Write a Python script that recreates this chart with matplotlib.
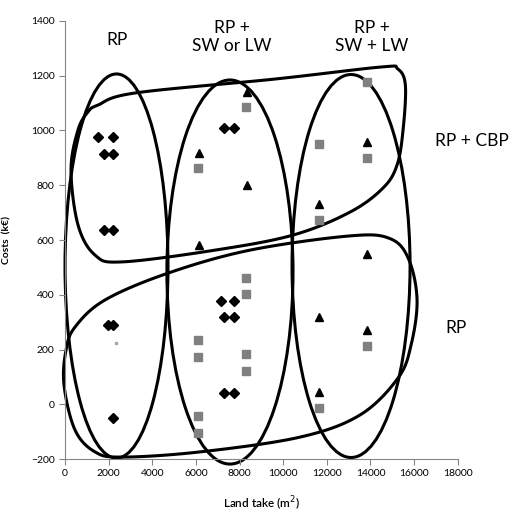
import numpy as np
import matplotlib
matplotlib.use("Agg")
import matplotlib.pyplot as plt
from matplotlib.patches import Ellipse, Polygon

plt.rcParams['font.family'] = ['Lato', 'DejaVu Sans']

# data: land take (m2), costs (kEUR)
rp_x = [1500, 2200, 1800, 2200, 1800, 2200, 1950, 2200, 2200,
        7300, 7750, 7150, 7750, 7300, 7750, 7300, 7750]
rp_y = [975, 975, 915, 915, 636, 636, 290, 290, -49,
        1008, 1008, 378, 378, 320, 320, 40, 40]

tri_x = [8330, 6140, 8330, 6140, 13830, 11630, 13830, 11630, 13830, 11630]
tri_y = [1142, 917, 801, 582, 959, 732, 549, 320, 271, 44]

sq_x = [8310, 6110, 8310, 8310, 6110, 6110, 8310, 8310, 6110, 6110,
        13830, 11630, 13830, 11630, 13830, 11630]
sq_y = [1087, 862, 460, 402, 235, 174, 182, 123, -43, -104,
        1178, 951, 898, 673, 213, -15]

dash_x = [2320]
dash_y = [225]

# hand drawn group outlines (data units)
ovals = [((2360, 505), 4720, 1403),
         ((7560, 483), 5780, 1403),
         ((13110, 505), 5410, 1399)]

upper_blob = [(1513, 1093), (3209, 1137), (9626, 1188), (14500, 1232),
              (15250, 1225), (15600, 1165), (15494, 1002), (15219, 874),
              (14577, 790), (13064, 702), (10451, 618), (6876, 563),
              (2613, 520), (1375, 545), (596, 655), (275, 856),
              (596, 1002), (1054, 1068)]

lower_blob = [(458, 282), (1834, 381), (4721, 479), (8480, 563),
              (13064, 615), (14900, 605), (15750, 530), (16135, 381),
              (15860, 216), (15265, 96), (13523, -39), (10772, -120),
              (6188, -174), (2613, -193), (1375, -174), (458, -94),
              (-46, 70), (46, 198)]


def smooth_closed(pts, n=30):
    # Catmull-Rom spline through the outline points
    p = np.array(pts, dtype=float)
    out = []
    m = len(p)
    for i in range(m):
        p0, p1, p2, p3 = p[i - 1], p[i], p[(i + 1) % m], p[(i + 2) % m]
        t = np.linspace(0, 1, n, endpoint=False)[:, None]
        out.append(0.5 * ((2 * p1) + (-p0 + p2) * t
                          + (2 * p0 - 5 * p1 + 4 * p2 - p3) * t ** 2
                          + (-p0 + 3 * p1 - 3 * p2 + p3) * t ** 3))
    return np.vstack(out)


fig = plt.figure(figsize=(5.12, 5.12), dpi=100)
ax = fig.add_axes([0.127, 0.1035, 0.767, 0.8555])

ax.plot(rp_x, rp_y, 'D', color='black', ms=4.8, ls='none', zorder=3)
ax.plot(tri_x, tri_y, '^', color='black', ms=6, ls='none', zorder=3)
ax.plot(sq_x, sq_y, 's', color='#808080', ms=6, ls='none', zorder=3)
ax.plot(dash_x, dash_y, 's', color='#a6a6a6', ms=2, ls='none', zorder=3)

for c, w, h in ovals:
    ax.add_patch(Ellipse(c, w, h, fill=False, lw=2.2, ec='black', clip_on=False))
for blob in (upper_blob, lower_blob):
    ax.add_patch(Polygon(smooth_closed(blob), closed=True, fill=False,
                         lw=2.2, ec='black', clip_on=False))

ax.set_xlim(0, 18000)
ax.set_ylim(-200, 1400)
ax.set_xticks(np.arange(0, 18001, 2000))
ax.set_yticks(np.arange(-200, 1401, 200))
for s in ('top', 'right'):
    ax.spines[s].set_visible(False)
for s in ('left', 'bottom'):
    ax.spines[s].set_color('#868686')
    ax.spines[s].set_linewidth(0.8)
ax.tick_params(colors='#868686', labelcolor='black', labelsize=7.5,
               length=4, width=0.8)
ax.set_xlabel('Land take (m$^2$)', fontsize=8.5, fontweight='semibold', labelpad=12)
ax.set_ylabel('Costs  (k€)', fontsize=7.5, fontweight='bold', labelpad=14)

txt = dict(fontsize=12.5, ha='center', va='center')
fig.text(117 / 512, 1 - 40 / 512, 'RP', **txt)
fig.text(232 / 512, 1 - 37 / 512, 'RP +\nSW or LW', linespacing=1.1, **txt)
fig.text(372 / 512, 1 - 37 / 512, 'RP +\nSW + LW', linespacing=1.1, **txt)
fig.text(472 / 512, 1 - 141 / 512, 'RP + CBP', **txt)
fig.text(456 / 512, 1 - 328 / 512, 'RP', **txt)

fig.savefig('out.png', dpi=100)
